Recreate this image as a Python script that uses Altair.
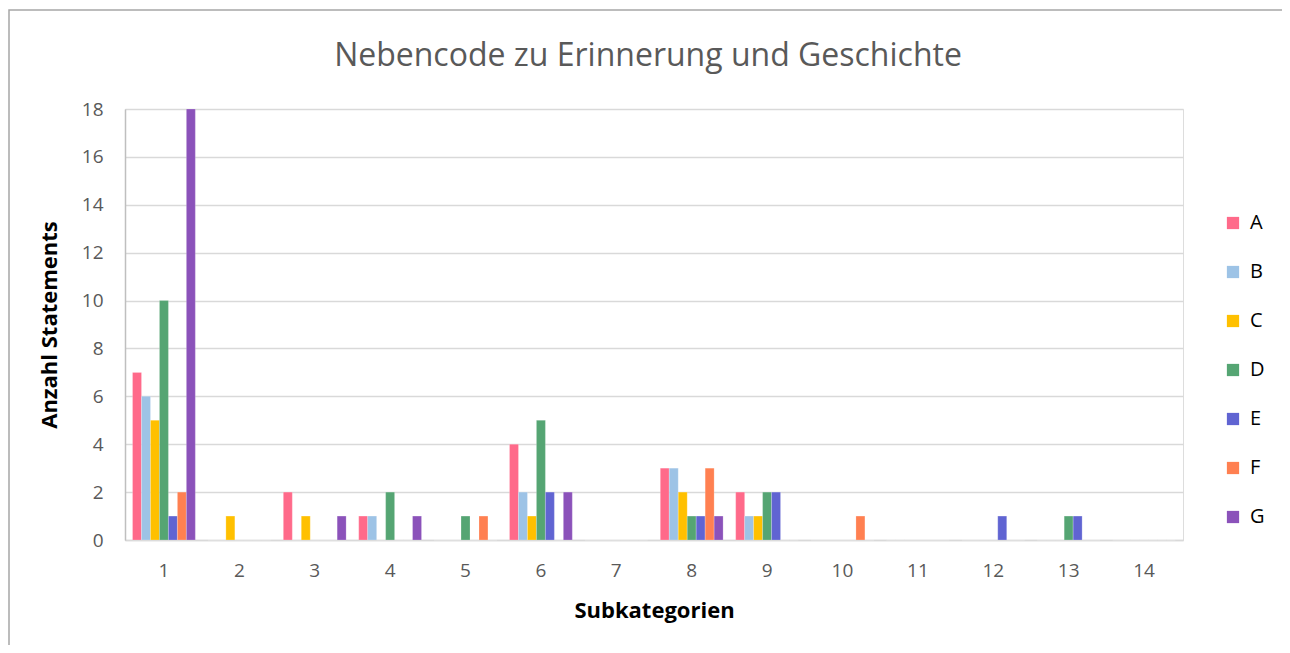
import altair as alt
import pandas as pd

categories = [str(i) for i in range(1, 15)]
series = ["A", "B", "C", "D", "E", "F", "G"]
colors = ["#FF6A8A", "#9DC3E6", "#FFC000", "#55A573", "#6064D2", "#FF8051", "#8B52BA"]

A = [7, 0, 2, 1, 0, 4, 0, 3, 2, 0, 0, 0, 0, 0]
B = [6, 0, 0, 1, 0, 2, 0, 3, 1, 0, 0, 0, 0, 0]
C = [5, 1, 1, 0, 0, 1, 0, 2, 1, 0, 0, 0, 0, 0]
D = [10, 0, 0, 2, 1, 5, 0, 1, 2, 0, 0, 0, 1, 0]
E = [1, 0, 0, 0, 0, 2, 0, 1, 2, 0, 0, 1, 1, 0]
F = [2, 0, 0, 0, 1, 0, 0, 3, 0, 1, 0, 0, 0, 0]
G = [18, 0, 1, 1, 0, 2, 0, 1, 0, 0, 0, 0, 0, 0]

values = {"A": A, "B": B, "C": C, "D": D, "E": E, "F": F, "G": G}
rows = []
for s in series:
    for c, v in zip(categories, values[s]):
        rows.append({"Subkategorie": c, "Serie": s, "Anzahl": v})
df = pd.DataFrame(rows)

FONT = "Open Sans"
W, H = 1058, 431

bars = alt.Chart(df).mark_bar(stroke="white", strokeOpacity=0.35, strokeWidth=0.6).encode(
    x=alt.X("Subkategorie:N", sort=categories,
            scale=alt.Scale(domain=categories, paddingInner=0.167, paddingOuter=0.1),
            axis=alt.Axis(title="Subkategorien", labelAngle=0, labelFontSize=19,
                          labelColor="#595959", labelFont=FONT, labelPadding=21,
                          titleFontSize=22, titleFont=FONT, titleFontWeight="bold",
                          titleColor="#000000", titlePadding=20, ticks=False,
                          domainColor="#d9d9d9", domainWidth=1.5, grid=False)),
    xOffset=alt.XOffset("Serie:N", scale=alt.Scale(domain=series, paddingInner=0, paddingOuter=0)),
    y=alt.Y("Anzahl:Q", scale=alt.Scale(domain=[0, 18], nice=False),
            axis=alt.Axis(title="Anzahl Statements", values=list(range(0, 19, 2)),
                          labelFontSize=19, labelColor="#595959", labelFont=FONT,
                          labelPadding=22, titleFontSize=22, titleFont=FONT,
                          titleFontWeight="bold", titleColor="#000000", titlePadding=20,
                          ticks=False, domainColor="#bfbfbf", domainWidth=1.5,
                          gridColor="#d9d9d9", gridWidth=1.5)),
    color=alt.Color("Serie:N", scale=alt.Scale(domain=series, range=colors),
                    legend=alt.Legend(title=None, orient="none", legendX=W + 40, legendY=104,
                                      symbolType="square", symbolSize=150, symbolStrokeWidth=0,
                                      labelFontSize=20, labelFont=FONT, labelColor="#000000",
                                      rowPadding=29, labelOffset=7)),
)

frame = alt.Chart(pd.DataFrame({"f": [0]})).mark_rect(
    fill=None, stroke="#a6a6a6", strokeWidth=1.5
).encode(
    x=alt.value(-116), x2=alt.value(W + 130),
    y=alt.value(-99), y2=alt.value(H + 150),
)

chart = alt.layer(frame, bars).properties(
    width=W, height=H,
    title=alt.TitleParams("Nebencode zu Erinnerung und Geschichte", fontSize=32,
                          font=FONT, fontWeight="normal", color="#595959",
                          anchor="middle", offset=-64, dx=-6),
    autosize=alt.AutoSizeParams(type="none"),
    padding={"left": 117, "top": 101, "right": 99, "bottom": 105},
).configure_view(stroke=None).configure(background="white")

chart.save("out.html", embed_options={"renderer": "svg", "actions": False})
